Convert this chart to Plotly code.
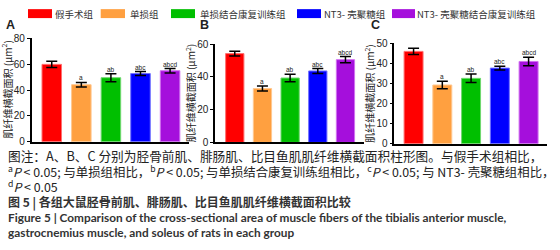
import plotly.graph_objects as go

# ---------------- data ----------------
groups = ["假手术组", "单损组", "单损结合康复训练组", "NT3- 壳聚糖组", "NT3- 壳聚糖结合康复训练组"]
panels = ["A", "B", "C"]
mean_A = [59.9, 44.2, 49.6, 52.8, 55.0]
err_A = [2.5, 1.7, 3.1, 1.5, 1.7]
mean_B = [54.2, 32.9, 39.3, 43.6, 50.5]
err_B = [1.4, 1.5, 2.3, 1.5, 1.9]
mean_C = [45.9, 29.2, 32.5, 37.6, 40.9]
err_C = [1.6, 1.9, 2.1, 0.9, 2.1]
sig_labels = ["", "a", "ab", "abc", "abcd"]
y_max = [80, 60, 50]
y_dtick = [20, 20, 10]
y_title = "肌纤维横截面积 (μm<sup>2</sup>)"

# ---------------- styles / geometry ----------------
colors = ["#FF0000", "#FFA040", "#00BF00", "#0000FF", "#A50FDC"]
edge_colors = ["#FF7070", "#FFC890", "#70D870", "#7070FF", "#D070F0"]
W, H = 560, 250
# pixel geometry of each panel: x0, x1, ytop, ybottom, x-range
geom = [
    (31.5, 189.0, 34.0, 142.7, [-0.685, 4.64]),
    (215.0, 364.0, 40.0, 143.3, [-0.715, 4.67]),
    (394.3, 546.7, 39.0, 144.7, [-0.67, 4.63]),
]
letter_pos = [(5, 19.5), (199, 20), (370, 20)]
swatch_x = [(28, 52), (100.7, 125), (171, 195), (297, 321), (392, 415)]
label_x = [54, 129, 199, 323, 416]
CJK = "Noto Sans CJK SC, sans-serif"


def px(x):
    return x / W


def py(y):
    return 1 - y / H


means = [mean_A, mean_B, mean_C]
errs = [err_A, err_B, err_C]

fig = go.Figure()
annotations = []
shapes = []
xs = list(range(len(groups)))

for k in range(3):
    x0, x1, yt, yb, xr = geom[k]
    xa = "xaxis" if k == 0 else f"xaxis{k+1}"
    ya = "yaxis" if k == 0 else f"yaxis{k+1}"
    xref = "x" if k == 0 else f"x{k+1}"
    yref = "y" if k == 0 else f"y{k+1}"
    fig.add_trace(go.Bar(
        x=xs, y=means[k], width=0.66,
        marker=dict(color=colors, line=dict(color=edge_colors, width=1)),
        error_y=dict(type="data", array=errs[k], color="black", thickness=1.5, width=5.5),
        xaxis=xref, yaxis=yref, showlegend=False, hoverinfo="skip",
    ))
    fig.layout[xa] = dict(
        domain=[px(x0), px(x1)], range=xr, showticklabels=False, ticks="",
        showline=True, linecolor="black", linewidth=1.5, showgrid=False,
        zeroline=False, anchor=yref, fixedrange=True,
    )
    fig.layout[ya] = dict(
        domain=[py(yb), py(yt)], range=[0, y_max[k]], dtick=y_dtick[k], tick0=0,
        showline=True, linecolor="black", linewidth=1.5, ticks="outside",
        ticklen=3, tickwidth=1, tickcolor="black", showgrid=False, zeroline=False,
        tickfont=dict(family="Liberation Sans, Arial", size=10, color="#222"),
        anchor=xref, fixedrange=True,
    )
    for i in xs:
        if sig_labels[i]:
            annotations.append(dict(
                x=i, y=means[k][i] + errs[k][i], xref=xref, yref=yref,
                text=sig_labels[i], showarrow=False, yanchor="bottom", yshift=0,
                borderpad=0,
                font=dict(family="Liberation Sans, Arial", size=6.5, color="#222"),
            ))
    # y-axis title
    annotations.append(dict(
        x=px(x0 - 25), y=py((yt + yb) / 2), xref="paper", yref="paper",
        text=y_title, textangle=-90, showarrow=False, xanchor="center", yanchor="middle",
        borderpad=0,
        font=dict(family="Noto Sans CJK SC", size=10, color="#222"),
    ))
    lx, ly = letter_pos[k]
    annotations.append(dict(
        x=px(lx), y=py(ly), xref="paper", yref="paper", text=panels[k],
        showarrow=False, xanchor="left", yanchor="middle", borderpad=0,
        font=dict(family="Liberation Sans, Arial", size=12.5, color="#222", weight="bold"),
    ))

# legend (manual)
for i, g in enumerate(groups):
    sx0, sx1 = swatch_x[i]
    shapes.append(dict(type="rect", xref="paper", yref="paper",
                       x0=px(sx0), x1=px(sx1), y0=py(12.7), y1=py(3.3),
                       fillcolor=colors[i], line=dict(width=0)))
    annotations.append(dict(
        x=px(label_x[i]), y=py(8), xref="paper", yref="paper", text=g,
        showarrow=False, xanchor="left", yanchor="middle", borderpad=0,
        font=dict(family=CJK, size=9.5, color="#333"),
    ))

# caption
cap1 = "图注：A、B、C 分别为胫骨前肌、腓肠肌、比目鱼肌肌纤维横截面积柱形图。与假手术组相比，"
cap2 = ("<sup>a</sup><i>P</i> &lt; 0.05; 与单损组相比，<sup>b</sup><i>P</i> &lt; 0.05; "
        "与单损结合康复训练组相比，<sup>c</sup><i>P</i> &lt; 0.05; 与 NT3- 壳聚糖组相比，")
cap3 = "<sup>d</sup><i>P</i> &lt; 0.05"
cap4 = "图 5 | 各组大鼠胫骨前肌、腓肠肌、比目鱼肌肌纤维横截面积比较"
cap5 = "Figure 5 | Comparison of the cross-sectional area of muscle fibers of the tibialis anterior muscle,"
cap6 = "gastrocnemius muscle, and soleus of rats in each group"

for txt, y, fnt in [
    (cap1, 157, dict(family=CJK, size=12.7, color="#222")),
    (cap2, 173.5, dict(family=CJK, size=12.4, color="#222")),
    (cap3, 189.5, dict(family=CJK, size=12.4, color="#222")),
    (cap4, 205.5, dict(family="Noto Sans CJK SC", size=12, color="#333", weight="bold")),
    (cap5, 222, dict(family="Lato", size=11.8, color="#333", weight="bold")),
    (cap6, 238, dict(family="Lato", size=11.8, color="#333", weight="bold")),
]:
    annotations.append(dict(
        x=px(7), y=py(y), xref="paper", yref="paper", text=txt, showarrow=False,
        xanchor="left", yanchor="middle", borderpad=0, font=fnt,
    ))

fig.update_layout(
    width=W, height=H, autosize=False,
    margin=dict(l=0, r=0, t=0, b=0),
    paper_bgcolor="white", plot_bgcolor="white",
    annotations=annotations, shapes=shapes, showlegend=False,
)

fig.write_html("out.html", config={"displayModeBar": False},
               post_script="document.body.style.margin='0';document.body.style.overflow='hidden';")
